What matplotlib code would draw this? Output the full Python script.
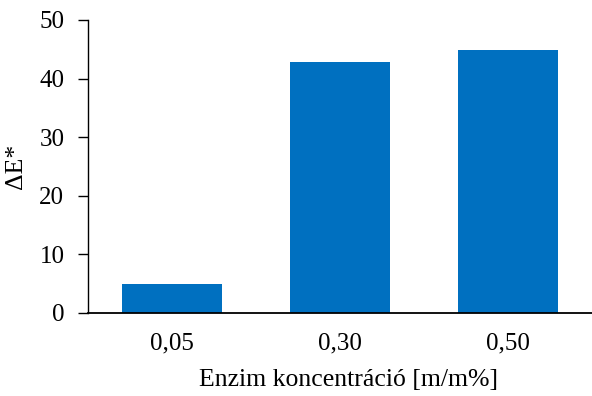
import numpy as np
import matplotlib.pyplot as plt

plt.rcParams['font.family'] = ['Liberation Serif', 'DejaVu Serif']

categories = ['0,05', '0,30', '0,50']
delta_e = [5.0, 42.9, 44.9]

fig = plt.figure(figsize=(5.92, 3.96), dpi=100)
ax = fig.add_axes([0.1486, 0.2096, 0.8514, 0.7399])

x = np.arange(len(categories))
ax.bar(x, delta_e, width=0.59, color='#0070C0')

ax.set_xlim(-0.5, 2.5)
ax.set_ylim(0, 50)
ax.set_yticks(np.arange(0, 51, 10))
ax.set_xticks(x)
ax.set_xticklabels(categories)
ax.tick_params(axis='x', length=0, labelsize=18, pad=14)
ax.tick_params(axis='y', length=7, width=1, labelsize=18, direction='out', pad=10)

for side in ['top', 'right']:
    ax.spines[side].set_visible(False)
ax.spines['left'].set_linewidth(1)
ax.spines['bottom'].set_linewidth(1.3)

ax.set_xlabel('Enzim koncentráció [m/m%]', fontsize=18.5, labelpad=8)
ax.xaxis.set_label_coords(0.516, -0.19)
ax.set_ylabel('ΔE*', fontsize=18.5)
ax.yaxis.set_label_coords(-0.121, 0.5)

fig.savefig('out.png', dpi=100)
